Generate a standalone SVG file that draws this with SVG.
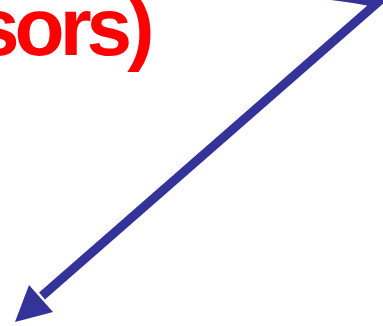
<svg xmlns="http://www.w3.org/2000/svg" width="383" height="326" viewBox="0 0 383 326">
<style>
.t{font-family:"Liberation Sans",Arial,sans-serif;font-weight:bold;fill:#FF0000;font-size:82px;letter-spacing:-5px}
.c{stroke:#333399;stroke-width:9;fill:none;stroke-linejoin:miter}
.h{fill:#333399}
</style>
<rect width="383" height="326" fill="#fff"/>
<g id="label"><text class="t" x="-26" y="55">sors)</text></g>
<g id="connectors">
<path class="c" d="M300,-8 Q350,-3 377,3 L42,296"/>
<path class="h" d="M15,322 L29,285 L53,312 Z"/>
</g>
</svg>
